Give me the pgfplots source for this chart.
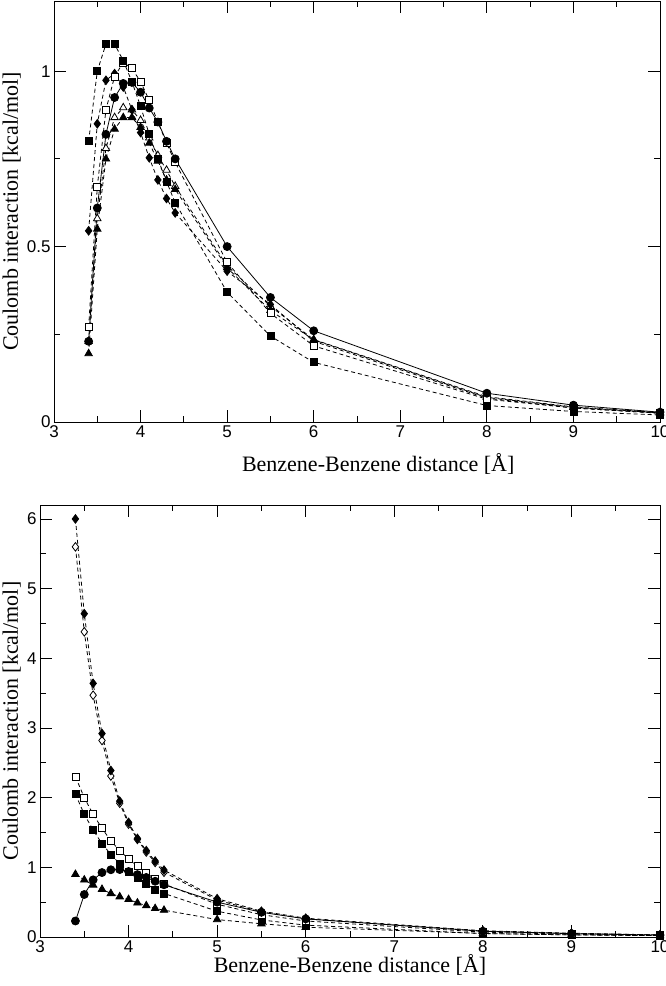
\documentclass[border=0pt]{standalone}
\usepackage{fontspec}
\setmainfont{Liberation Serif}
\newfontfamily\ticksf{Liberation Sans}
\usepackage{pgfplots}
\pgfplotsset{compat=1.18}
\pgfplotsset{
  coul/.style={
    scale only axis, clip=false,
    xmin=3, xmax=10, xtick={3,...,10}, minor x tick num=1,
    tick align=inside, major tick length=12pt, minor tick length=6pt,
    every tick/.style={black, line width=0.8pt},
    axis line style={line width=0.9pt},
    /pgf/number format/assume math mode=true,
    ticklabel style={font=\ticksf\fontsize{17}{17}\selectfont},
    label style={font=\fontsize{22}{24}\selectfont},
    xlabel={Benzene-Benzene distance [Å]},
    ylabel={Coulomb interaction [kcal/mol]},
    every axis plot/.append style={black, line width=0.8pt},
  },
  dsh/.style={dash pattern=on 4pt off 3pt},
  fsq/.style={mark=square*, mark size=3.5pt, mark options={solid, fill=black}},
  osq/.style={mark=square*, mark size=3.5pt, mark options={solid, fill=white}},
  fci/.style={mark=*, mark size=4pt, mark options={solid, fill=black}},
  fdi/.style={mark=diamond*, mark size=4.3pt, mark options={solid, fill=black}},
  odi/.style={mark=diamond*, mark size=4.3pt, mark options={solid, fill=white}},
  ftr/.style={mark=triangle*, mark size=4.3pt, mark options={solid, fill=black}},
  otr/.style={mark=triangle*, mark size=4.3pt, mark options={solid, fill=white}},
}
\begin{document}
\begin{tikzpicture}
\path[use as bounding box] (0,0) rectangle (666pt,-986pt);
% ---------------- top panel ----------------
\begin{axis}[coul, at={(54pt,-1pt)}, anchor=north west, width=606pt, height=421pt,
  ymin=0, ymax=1.2, ytick={0,0.5,1}, yticklabels={0,0.5,1}, minor y tick num=1,
  ylabel style={at={(axis description cs:-0.0545,0.5)}, anchor=south, inner sep=0pt},
  xlabel style={at={(axis description cs:0.535,0)}, anchor=north, yshift=-31pt, inner sep=0pt}]
% open triangle
\addplot[dsh, otr] coordinates {(3.4,0.23)(3.5,0.58)(3.6,0.78)(3.7,0.868)(3.8,0.896)(3.9,0.89)(4.0,0.86)(4.1,0.81)(4.2,0.76)(4.3,0.718)(4.4,0.672)(5,0.445)(5.5,0.33)(6,0.235)(8,0.072)(9,0.043)(10,0.027)};
% filled triangle
\addplot[dsh, ftr] coordinates {(3.4,0.195)(3.5,0.55)(3.6,0.75)(3.7,0.835)(3.8,0.868)(3.9,0.868)(4.0,0.84)(4.1,0.795)(4.2,0.744)(4.3,0.69)(4.4,0.663)(5,0.44)(5.5,0.318)(6,0.234)(8,0.07)(9,0.042)(10,0.026)};
% filled diamond
\addplot[dsh, fdi] coordinates {(3.4,0.545)(3.5,0.85)(3.6,0.974)(3.7,0.993)(3.8,0.955)(3.9,0.89)(4.0,0.825)(4.1,0.753)(4.2,0.69)(4.3,0.637)(4.4,0.596)(5,0.43)(5.5,0.335)(6,0.23)(8,0.068)(9,0.04)(10,0.025)};
% open square
\addplot[dsh, osq] coordinates {(3.4,0.27)(3.5,0.67)(3.6,0.89)(3.7,0.985)(3.8,1.025)(3.9,1.008)(4.0,0.97)(4.1,0.917)(4.2,0.855)(4.3,0.795)(4.4,0.74)(5,0.455)(5.5,0.31)(6,0.217)(8,0.065)(9,0.04)(10,0.025)};
% filled square
\addplot[dsh, fsq] coordinates {(3.4,0.80)(3.5,1.00)(3.6,1.077)(3.7,1.077)(3.8,1.03)(3.9,0.97)(4.0,0.90)(4.1,0.82)(4.2,0.75)(4.3,0.685)(4.4,0.625)(5,0.37)(5.5,0.245)(6,0.17)(8,0.047)(9,0.03)(10,0.02)};
% filled circle, solid
\addplot[fci] coordinates {(3.4,0.23)(3.5,0.61)(3.6,0.82)(3.7,0.925)(3.8,0.965)(3.9,0.968)(4.0,0.94)(4.1,0.895)(4.2,0.855)(4.3,0.80)(4.4,0.75)(5,0.50)(5.5,0.355)(6,0.26)(8,0.082)(9,0.048)(10,0.028)};
\end{axis}
% ---------------- bottom panel ----------------
\begin{axis}[coul, at={(40pt,-505pt)}, anchor=north west, width=620pt, height=432pt,
  ymin=0, ymax=6.2, ytick={0,...,6}, minor y tick num=1,
  ylabel style={at={(axis description cs:-0.0306,0.5)}, anchor=south, inner sep=0pt},
  xlabel style={at={(axis description cs:0.5,0)}, anchor=north, yshift=-17pt, inner sep=0pt}]
% filled triangle
\addplot[dsh, ftr] coordinates {(3.4,0.90)(3.5,0.82)(3.6,0.745)(3.7,0.685)(3.8,0.625)(3.9,0.578)(4.0,0.54)(4.1,0.49)(4.2,0.45)(4.3,0.41)(4.4,0.385)(5,0.25)(5.5,0.19)(6,0.14)(8,0.05)(9,0.03)(10,0.02)};
% filled square
\addplot[dsh, fsq] coordinates {(3.4,2.05)(3.5,1.76)(3.6,1.535)(3.7,1.34)(3.8,1.185)(3.9,1.05)(4.0,0.94)(4.1,0.855)(4.2,0.76)(4.3,0.683)(4.4,0.625)(5,0.37)(5.5,0.245)(6,0.17)(8,0.05)(9,0.03)(10,0.02)};
% open square
\addplot[dsh, osq] coordinates {(3.4,2.30)(3.5,2.0)(3.6,1.76)(3.7,1.56)(3.8,1.38)(3.9,1.24)(4.0,1.12)(4.1,1.02)(4.2,0.92)(4.3,0.83)(4.4,0.76)(5,0.47)(5.5,0.32)(6,0.23)(8,0.07)(9,0.04)(10,0.025)};
% open diamond
\addplot[dsh, odi] coordinates {(3.4,5.6)(3.5,4.38)(3.6,3.47)(3.7,2.82)(3.8,2.31)(3.9,1.92)(4.0,1.62)(4.1,1.40)(4.2,1.22)(4.3,1.07)(4.4,0.93)(5,0.53)(5.5,0.36)(6,0.26)(8,0.085)(9,0.05)(10,0.03)};
% filled diamond
\addplot[dsh, fdi] coordinates {(3.4,6.0)(3.5,4.64)(3.6,3.64)(3.7,2.92)(3.8,2.39)(3.9,1.95)(4.0,1.645)(4.1,1.415)(4.2,1.24)(4.3,1.09)(4.4,0.96)(5,0.55)(5.5,0.37)(6,0.27)(8,0.09)(9,0.055)(10,0.03)};
% filled circle, solid
\addplot[fci] coordinates {(3.4,0.23)(3.5,0.61)(3.6,0.82)(3.7,0.925)(3.8,0.965)(3.9,0.968)(4.0,0.94)(4.1,0.895)(4.2,0.855)(4.3,0.80)(4.4,0.75)(5,0.50)(5.5,0.355)(6,0.26)(8,0.082)(9,0.048)(10,0.028)};
\end{axis}
\end{tikzpicture}
\end{document}
